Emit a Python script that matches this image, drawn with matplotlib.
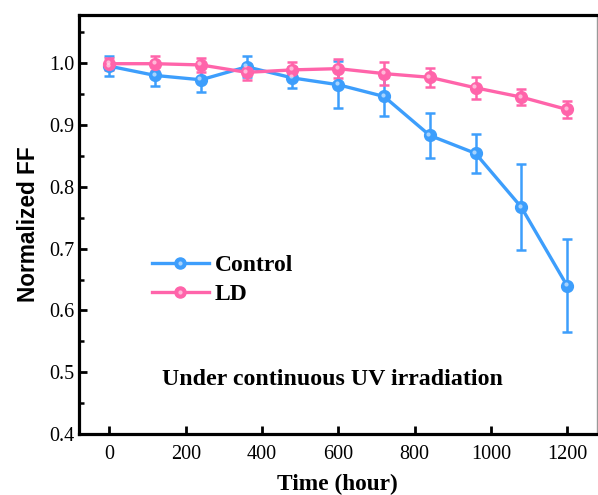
import matplotlib
matplotlib.use('Agg')
import matplotlib.pyplot as plt
import matplotlib.transforms as mtransforms
from matplotlib.legend_handler import HandlerTuple
from matplotlib.ticker import MultipleLocator

# irradiation time points (hour)
time_h = [0, 120, 240, 360, 480, 600, 720, 840, 960, 1080, 1200]

# normalized fill factor, control device
ff_control = [0.995, 0.980, 0.973, 0.994, 0.976, 0.965, 0.946, 0.883, 0.854, 0.767, 0.640]
err_control = [0.016, 0.017, 0.020, 0.017, 0.017, 0.038, 0.032, 0.037, 0.032, 0.069, 0.075]

# normalized fill factor, LD device
ff_ld = [0.999, 0.999, 0.997, 0.985, 0.989, 0.991, 0.983, 0.977, 0.960, 0.945, 0.925]
err_ld = [0.010, 0.012, 0.011, 0.013, 0.012, 0.015, 0.018, 0.015, 0.018, 0.013, 0.014]

c_blue = '#3d9efc'
c_pink = '#ff64aa'

serif = ['Liberation Serif', 'DejaVu Serif']

fig = plt.figure(figsize=(5.98, 4.95), dpi=100)
ax = fig.add_axes([0.132, 0.123, 0.866, 0.847])

# small light spot on each marker, shifted up-left
shine = ax.transData + mtransforms.ScaledTranslation(-1.5/100, 1.5/100, fig.dpi_scale_trans)

handles = []
for y, e, col, lab in [(ff_control, err_control, c_blue, 'Control'),
                       (ff_ld, err_ld, c_pink, 'LD')]:
    ax.errorbar(time_h, y, yerr=e, color=col, lw=2.4, elinewidth=1.8,
                capsize=3.5, capthick=1.8, marker='o', ms=8.5,
                mfc=col, mec=col, zorder=3)
    ax.plot(time_h, y, ls='none', marker='o', ms=3, color='white',
            alpha=0.55, mew=0, transform=shine, zorder=4)
    h1, = ax.plot([], [], color=col, lw=2.4, marker='o', ms=8)
    h2, = ax.plot([], [], ls='none', marker='o', ms=3, color='white', alpha=0.55, mew=0)
    handles.append(((h1, h2), lab))

leg = ax.legend([h for h, _ in handles], [l for _, l in handles],
                handler_map={tuple: HandlerTuple(ndivide=1, pad=0)},
                loc='upper left', bbox_to_anchor=(0.1, 0.478), frameon=False,
                handlelength=2.4, handletextpad=0.25, labelspacing=0.3,
                prop={'family': serif, 'weight': 'bold', 'size': 17})

ax.text(0.489, 0.131, 'Under continuous UV irradiation', transform=ax.transAxes,
        ha='center', va='center', family=serif, weight='bold', fontsize=17.2)

ax.set_xlim(-80, 1278)
ax.set_ylim(0.4, 1.078)
ax.set_xticks([0, 200, 400, 600, 800, 1000, 1200])
ax.set_yticks([0.4, 0.5, 0.6, 0.7, 0.8, 0.9, 1.0])
ax.yaxis.set_minor_locator(MultipleLocator(0.05))

ax.tick_params(which='both', direction='in', labelsize=14.5, width=2)
ax.tick_params(which='major', length=6)
ax.tick_params(which='minor', length=3.5, width=1.8)
ax.tick_params(axis='x', pad=8)
for lbl in ax.get_xticklabels() + ax.get_yticklabels():
    lbl.set_family(serif)

for side in ['left', 'bottom', 'top']:
    ax.spines[side].set_linewidth(2.3)
    ax.spines[side].set_color('black')
ax.spines['right'].set_linewidth(1.0)
ax.spines['right'].set_color('#999999')
ax.tick_params(top=False, right=False)

ax.set_xlabel('Time (hour)', family=serif, weight='bold', fontsize=16.8, labelpad=7)
ax.set_ylabel('Normalized FF', family=['Liberation Sans', 'DejaVu Sans'],
              weight='bold', fontsize=16.3, labelpad=6)

fig.savefig('out.png', dpi=100)
